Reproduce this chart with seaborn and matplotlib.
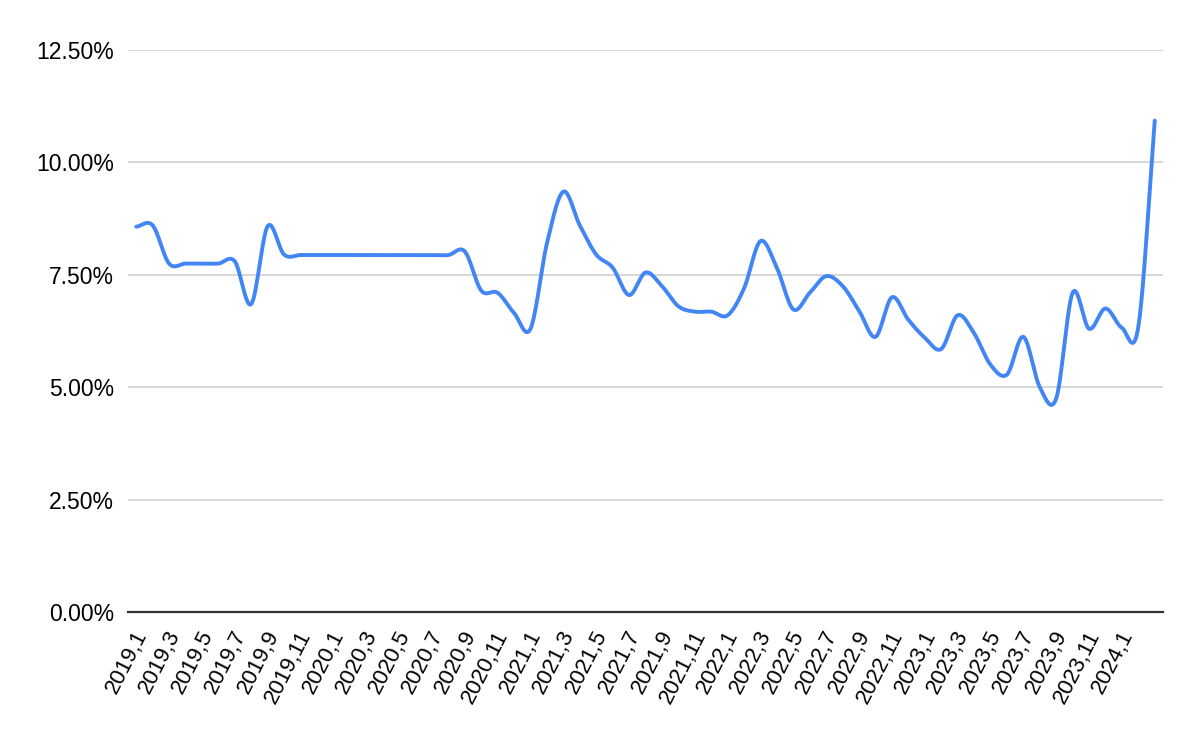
import numpy as np
import matplotlib
matplotlib.use('Agg')
import matplotlib.pyplot as plt
from matplotlib.transforms import ScaledTranslation
import seaborn as sns

# --- data (monthly rate, %) ---
months = [f"{2019 + k // 12},{k % 12 + 1}" for k in range(63)]
rate = [8.57, 8.60, 7.75, 7.75, 7.75, 7.75, 7.80, 6.85, 8.58, 7.95,
        7.94, 7.94, 7.94, 7.94, 7.94, 7.94, 7.94, 7.94, 7.94, 7.94,
        8.02, 7.15, 7.10, 6.65, 6.30, 8.20, 9.35, 8.60, 7.95, 7.66,
        7.05, 7.55, 7.25, 6.80, 6.68, 6.68, 6.60, 7.20, 8.25, 7.65,
        6.73, 7.10, 7.47, 7.25, 6.70, 6.12, 7.00, 6.50, 6.10, 5.85,
        6.60, 6.20, 5.50, 5.28, 6.12, 5.00, 4.75, 7.10, 6.30, 6.75,
        6.32, 6.35, 10.93]
y_ticks = [0, 2.5, 5, 7.5, 10, 12.5]


def smooth_line(vals, steps=24):
    # Catmull-Rom curve through the points, like the sheet's smoothed line
    p = np.asarray(vals, dtype=float)
    n = len(p)
    m = np.empty(n)
    m[1:-1] = (p[2:] - p[:-2]) / 2
    m[0] = p[1] - p[0]
    m[-1] = p[-1] - p[-2]
    xs, ys = [], []
    t = np.linspace(0, 1, steps, endpoint=False)
    h00 = 2 * t**3 - 3 * t**2 + 1
    h10 = t**3 - 2 * t**2 + t
    h01 = -2 * t**3 + 3 * t**2
    h11 = t**3 - t**2
    for i in range(n - 1):
        xs.append(i + t)
        ys.append(h00 * p[i] + h10 * m[i] + h01 * p[i + 1] + h11 * m[i + 1])
    xs.append([n - 1])
    ys.append([p[-1]])
    return np.concatenate(xs), np.concatenate(ys)


sns.set_style('white')
plt.rcParams['font.family'] = ['Liberation Sans', 'DejaVu Sans']

fig = plt.figure(figsize=(12, 7.42), dpi=100)
ax = fig.add_axes([128 / 1200, 1 - 612 / 742, (1163 - 128) / 1200, (612 - 50) / 742])

sx, sy = smooth_line(rate)
sns.lineplot(x=sx, y=sy, ax=ax, color='#4285f4', linewidth=2.8, sort=False)

ax.set_xlim(-0.5, len(months) - 0.5)
ax.set_ylim(0, 12.5)

ax.set_yticks(y_ticks)
ax.set_yticklabels([f"{v:.2f}%" for v in y_ticks])
ax.tick_params(axis='y', length=0, pad=10, labelsize=16.5, labelcolor='black')

ax.set_xticks(range(0, 61, 2))
ax.set_xticklabels(months[0:61:2], rotation=63, ha='right', va='center',
                   rotation_mode='anchor')
ax.tick_params(axis='x', length=0, pad=14, labelsize=16, labelcolor='black')
for lbl in ax.get_xticklabels():
    lbl.set_transform(lbl.get_transform() + ScaledTranslation(0.06, 0, fig.dpi_scale_trans))

ax.grid(axis='y', color='#cccccc', linewidth=1.1)
ax.grid(axis='x', visible=False)
ax.set_axisbelow(True)
for side in ['left', 'right', 'top']:
    ax.spines[side].set_visible(False)
ax.spines['bottom'].set_color('#333333')
ax.spines['bottom'].set_linewidth(1.6)
ax.set_xlabel('')
ax.set_ylabel('')

fig.savefig('out.png', dpi=100)
